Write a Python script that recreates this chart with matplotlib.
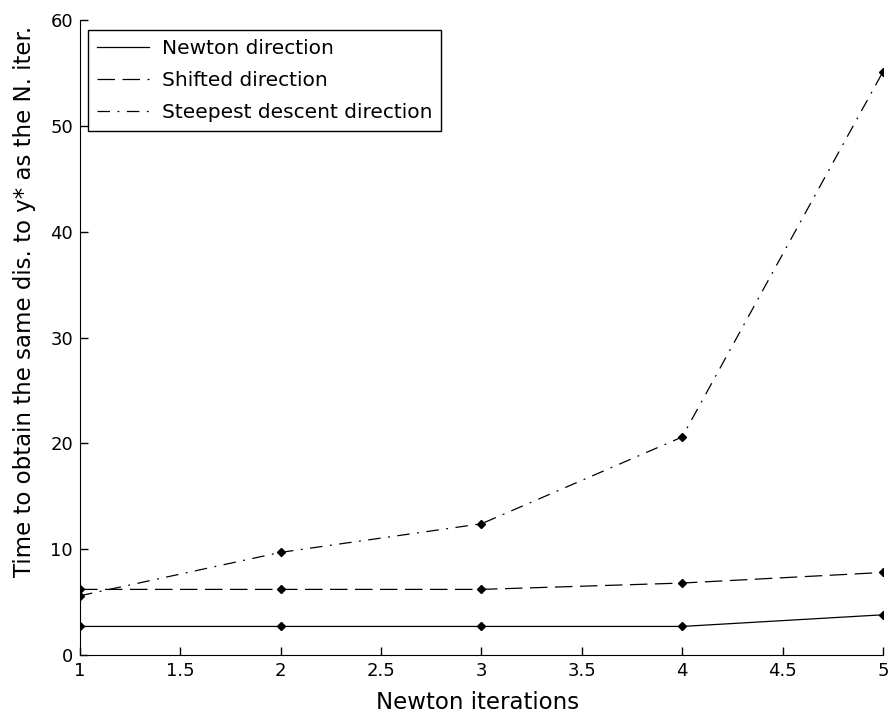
import matplotlib
matplotlib.use("Agg")
import matplotlib.pyplot as plt

plt.rcParams['font.family'] = ['DejaVu Sans']

# data
iters = [1, 2, 3, 4, 5]
newton = [2.7, 2.7, 2.7, 2.7, 3.8]
shifted = [6.2, 6.2, 6.2, 6.8, 7.8]
steepest = [5.6, 9.7, 12.4, 20.6, 55.1]
labels = ['Newton direction', 'Shifted direction', 'Steepest descent direction']
xticks = [1, 1.5, 2, 2.5, 3, 3.5, 4, 4.5, 5]
xticklabels = ['1', '1.5', '2', '2.5', '3', '3.5', '4', '4.5', '5']
yticks = [0, 10, 20, 30, 40, 50, 60]

fig = plt.figure(figsize=(8.9, 7.15), dpi=100)
ax = fig.add_axes([0.0899, 0.0839, 0.9021, 0.8881])

l1, = ax.plot(iters, newton, color='black', lw=0.9, linestyle='-')
l2, = ax.plot(iters, shifted, color='black', lw=0.9, linestyle=(0, (14, 6)))
l3, = ax.plot(iters, steepest, color='black', lw=0.9, linestyle=(0, (10, 6, 1.5, 6)))
for s in (newton, shifted, steepest):
    ax.plot(iters, s, linestyle='none', marker='D', markersize=4.5, color='black')

ax.set_xlim(1, 5)
ax.set_ylim(0, 60)
ax.set_xticks(xticks)
ax.set_xticklabels(xticklabels)
ax.set_yticks(yticks)
ax.spines['top'].set_visible(False)
ax.spines['right'].set_visible(False)
ax.tick_params(direction='in', length=6, width=1, labelsize=13, pad=5)

ax.set_xlabel('Newton iterations', fontsize=16.5)
ax.set_ylabel('Time to obtain the same dis. to y* as the N. iter.', fontsize=16.5)
ax.xaxis.set_label_coords(0.495, -0.057)
ax.yaxis.set_label_coords(-0.055, 0.557)

leg = ax.legend([l1, l2, l3], labels, loc='upper left', bbox_to_anchor=(0.01, 0.984),
                borderaxespad=0, fancybox=False, edgecolor='black', fontsize=14.5,
                handlelength=2.6, handletextpad=0.6, framealpha=1, borderpad=0.45,
                labelspacing=0.65)
leg.get_frame().set_linewidth(1.0)

fig.savefig('out.png', dpi=100)
